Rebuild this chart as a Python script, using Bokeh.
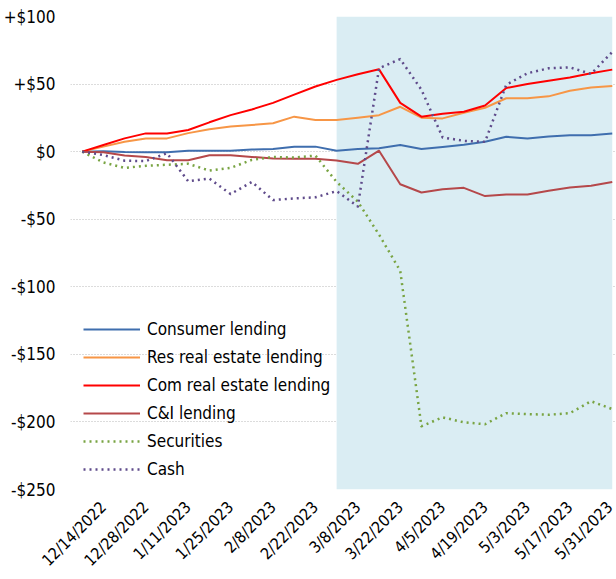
import math
from bokeh.plotting import figure
from bokeh.models import FixedTicker, BoxAnnotation, Legend, LegendItem
from bokeh.embed import file_html
from bokeh.resources import INLINE

# ---- data (weekly, billions of dollars, change since 12/7/2022) ----
dates = ["12/7/2022", "12/14/2022", "12/21/2022", "12/28/2022", "1/4/2023", "1/11/2023",
         "1/18/2023", "1/25/2023", "2/1/2023", "2/8/2023", "2/15/2023", "2/22/2023",
         "3/1/2023", "3/8/2023", "3/15/2023", "3/22/2023", "3/29/2023", "4/5/2023",
         "4/12/2023", "4/19/2023", "4/26/2023", "5/3/2023", "5/10/2023", "5/17/2023",
         "5/24/2023", "5/31/2023"]

consumer = [0, 0.3, -0.3, -0.5, -0.5, 0.7, 0.7, 0.7, 1.5, 2.0, 3.7, 3.7, 0.7, 2.0, 2.5,
            4.9, 2.0, 3.4, 5.1, 7.3, 11.0, 9.8, 11.2, 12.2, 12.2, 13.4]
res_re = [0, 3.7, 7.3, 9.8, 9.8, 13.7, 16.6, 18.6, 19.7, 21.0, 25.9, 23.4, 23.4, 25.1, 27.0,
          33.2, 25.1, 24.6, 28.8, 32.5, 39.5, 39.5, 40.9, 45.1, 47.5, 48.5]
com_re = [0, 4.9, 9.8, 13.5, 13.5, 16.0, 21.7, 27.0, 31.2, 36.1, 42.2, 48.2, 53.1, 57.3, 60.9,
          36.1, 25.9, 28.1, 29.5, 34.1, 47.1, 50.0, 52.4, 54.8, 58.0, 60.7]
cni = [0, -0.5, -2.9, -3.9, -6.3, -6.3, -2.6, -2.6, -3.9, -5.1, -5.3, -5.3, -6.6, -9.0, 0.7,
       -24.1, -30.2, -27.8, -26.8, -32.9, -31.7, -31.7, -29.0, -26.5, -25.3, -22.4]
securities = [0, -8.0, -12.0, -10.5, -9.7, -9.0, -14.0, -12.0, -6.1, -3.9, -4.4, -2.9, -22.4,
              -37.0, -61.4, -88.2, -203.2, -196.6, -200.3, -201.7, -193.5, -194.2, -194.7,
              -193.5, -184.7, -190.5]
cash = [0, -2.5, -6.7, -7.0, -1.2, -21.9, -20.0, -31.4, -22.4, -35.8, -34.6, -33.8, -29.2,
        -40.6, 61.7, 68.5, 45.8, 10.5, 8.0, 7.3, 49.5, 58.0, 61.7, 62.4, 57.5, 73.8]

series_names = ["Consumer lending", "Res real estate lending", "Com real estate lending",
                "C&I lending", "Securities", "Cash"]
y_ticks = [-250, -200, -150, -100, -50, 0, 50, 100]
y_labels = ["-$250", "-$200", "-$150", "-$100", "-$50", "$0", "+$50", "+$100"]
shade_start = "3/1/2023"
shade_end = "5/31/2023"

FONT = "DejaVu Sans Condensed"
x = list(range(len(dates)))

p = figure(width=616, height=579, output_backend="svg", toolbar_location=None,
           x_range=(-0.552, 25.2), y_range=(-250, 100),
           min_border_left=70, min_border_top=16, min_border_right=0, min_border_bottom=84)
p.outline_line_color = None

# grid
p.xgrid.visible = False
p.ygrid.grid_line_color = "#B8B8B8"
p.ygrid.grid_line_dash = "1 2"
p.ygrid.grid_line_width = 1

# shaded period
p.add_layout(BoxAnnotation(left=dates.index(shade_start), right=dates.index(shade_end),
                           bottom=y_ticks[0], top=y_ticks[-1],
                           fill_color="#DAEDF3", fill_alpha=1.0, line_alpha=0,
                           level="underlay"))

# axes
p.yaxis.ticker = FixedTicker(ticks=y_ticks)
p.yaxis.major_label_overrides = dict(zip(y_ticks, y_labels))
p.xaxis.ticker = FixedTicker(ticks=list(range(1, len(dates), 2)))
p.xaxis.major_label_overrides = {i: dates[i] for i in range(1, len(dates), 2)}
p.xaxis.major_label_orientation = math.pi / 4
for ax in (p.xaxis[0], p.yaxis[0]):
    ax.axis_line_color = None
    ax.major_tick_line_color = None
    ax.minor_tick_line_color = None
    ax.major_tick_out = 0
    ax.major_tick_in = 0
    ax.major_label_text_font = FONT
    ax.major_label_text_color = "#000000"
p.yaxis.major_label_text_font_size = "17px"
p.xaxis.major_label_text_font_size = "16px"
p.yaxis.major_label_standoff = 15
p.xaxis.major_label_standoff = 15

styles = [
    (consumer, "#3F6EAE", 2, None),
    (res_re, "#F79646", 2, None),
    (com_re, "#FF0000", 2, None),
    (cni, "#B5484A", 2, None),
    (securities, "#79A443", 2.5, "2 4"),
    (cash, "#5F4B8B", 2.5, "2 4"),
]
items = []
for name, (vals, color, w, dash) in zip(series_names, styles):
    kw = dict(line_color=color, line_width=w, line_join="round")
    if dash:
        kw["line_dash"] = dash
    r = p.line(x, vals, **kw)
    items.append(LegendItem(label=name, renderers=[r]))

legend = Legend(items=items, location=(13, 10))
legend.glyph_width = 57
legend.glyph_height = 20
legend.label_height = 20
legend.label_standoff = 7
legend.spacing = 8
legend.padding = 0
legend.margin = 0
legend.label_text_font = FONT
legend.label_text_font_size = "17px"
legend.label_text_color = "#000000"
legend.background_fill_alpha = 0
legend.border_line_alpha = 0
p.add_layout(legend)

open("out.html", "w").write(file_html(p, INLINE))
